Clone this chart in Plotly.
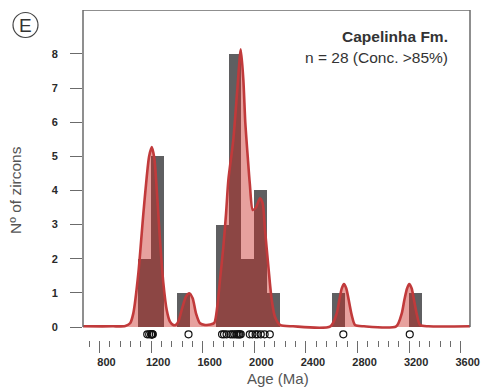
import plotly.graph_objects as go

# ---- data ----
grain_ages = [1170, 1185, 1200, 1203, 1206, 1209, 1213,
              1490,
              1750, 1765, 1785, 1815, 1830, 1845, 1860, 1870, 1880, 1887, 1895,
              1965, 1985, 2010, 2025, 2050, 2080, 2120,
              2690, 3205]

curve_age = [672, 900, 1000, 1037, 1062, 1101, 1140, 1166, 1184, 1205, 1225, 1244, 1269, 1295,
             1321, 1346, 1372, 1390, 1411, 1437, 1470, 1496, 1522, 1548, 1579, 1618, 1660,
             1690, 1713, 1734, 1760, 1781, 1799, 1837, 1868, 1895, 1915, 1930, 1949, 1965,
             1988, 2012, 2044, 2065, 2083, 2109, 2135, 2160, 2199, 2300, 2590, 2639, 2659,
             2678, 2695, 2713, 2732, 2755, 2781, 2850, 3100, 3143, 3163, 3184, 3201, 3220,
             3238, 3261, 3285, 3350, 3672]
curve_val = [0.02, 0.02, 0.03, 0.11, 0.40, 1.57, 3.33, 4.40, 4.99, 5.27, 4.94, 4.01, 2.55, 1.28,
             0.50, 0.16, 0.06, 0.06, 0.16, 0.50, 0.89, 0.99, 0.84, 0.40, 0.11, 0.06, 0.07,
             0.12, 0.60, 1.38, 2.35, 3.33, 4.31, 5.48, 6.95, 8.14, 7.24, 6.00, 4.99, 4.20,
             3.43, 3.50, 3.77, 3.62, 2.84, 1.77, 0.79, 0.30, 0.06, 0.02, 0.02, 0.40, 0.79,
             1.13, 1.26, 1.13, 0.79, 0.35, 0.06, 0.02, 0.02, 0.40, 0.79, 1.13, 1.26, 1.13,
             0.79, 0.35, 0.06, 0.02, 0.02]

x_ticks = [800, 1200, 1600, 2000, 2400, 2800, 3200, 3600]
y_ticks = [0, 1, 2, 3, 4, 5, 6, 7, 8]

# ---- layout geometry ----
W, H = 482, 388
L, R, T, B = 83, 12, 10, 48
PW, PH = W - L - R, H - T - B
XR = [672, 3672]
YR = [-0.381, 9.289]


def px(xp):
    return (xp - L) / PW


def py(yp):
    return (H - B - yp) / PH


FONT = "Liberation Sans, Arial, sans-serif"
GRAY = "#6b6b6b"

fig = go.Figure()
fig.add_trace(go.Histogram(
    x=grain_ages, xbins=dict(start=0, end=4000, size=100),
    marker=dict(color="#5f5f61", line=dict(width=0)), hoverinfo="skip"))
fig.add_trace(go.Scatter(
    x=curve_age, y=curve_val, mode="lines",
    line=dict(color="#c13a3b", width=2.6, shape="spline", smoothing=0.7),
    fill="tozeroy", fillcolor="rgba(200,38,30,0.43)"))
fig.add_trace(go.Scatter(
    x=grain_ages, y=[-0.215] * len(grain_ages), mode="markers",
    marker=dict(symbol="circle-open", size=7, color="#111111", line=dict(width=1.2)),
    cliponaxis=False))

fig.update_layout(
    width=W, height=H, margin=dict(l=L, r=R, t=T, b=B, autoexpand=False),
    paper_bgcolor="white", plot_bgcolor="white", showlegend=False, bargap=0,
    font=dict(family=FONT, color="#333333"),
    xaxis=dict(range=XR, tickmode="array", tickvals=x_ticks, ticktext=[str(v) for v in x_ticks],
               ticks="outside", ticklen=12, tickwidth=1.4, tickcolor=GRAY,
               ticklabelshift=7,
               tickfont=dict(size=11, family=FONT, color="#2a2a2a", weight="bold"),
               minor=dict(tickmode="linear", tick0=0, dtick=80, ticks="outside", ticklen=6,
                          tickwidth=1.2, tickcolor=GRAY, showgrid=False),
               showline=False, showgrid=False, zeroline=False, fixedrange=True),
    yaxis=dict(range=YR, tickmode="array", tickvals=y_ticks, ticks="outside", ticklen=12,
               tickwidth=1.4, tickcolor=GRAY, ticklabelstandoff=10,
               tickfont=dict(size=11, family=FONT, color="#2a2a2a", weight="bold"),
               showline=False, showgrid=False, zeroline=False, fixedrange=True),
)

# frame (top, left, right), stopping at zero
fig.add_shape(type="path", xref="paper", yref="y",
              path=f"M 0 0 L 0 {YR[1]} L 1 {YR[1]} L 1 0",
              line=dict(color=GRAY, width=1.5), layer="above")

# circled E
fig.add_shape(type="circle", xref="paper", yref="paper",
              x0=px(13), x1=px(38), y0=py(37.5), y1=py(12.5),
              line=dict(color="#444444", width=1.2))
fig.add_annotation(x=px(25.5), y=py(25.5), xref="paper", yref="paper", text="E",
                   showarrow=False, font=dict(size=19, color="#333333", family=FONT),
                   xanchor="center", yanchor="middle")

fig.add_annotation(x=px(450), y=py(37), xref="paper", yref="paper", text="<b>Capelinha Fm.</b>",
                   showarrow=False, xanchor="right", yanchor="middle",
                   font=dict(size=15.5, color="#333333", family=FONT))
fig.add_annotation(x=px(450), y=py(57), xref="paper", yref="paper", text="n = 28 (Conc. >85%)",
                   showarrow=False, xanchor="right", yanchor="middle",
                   font=dict(size=15.5, color="#333333", family=FONT))
fig.add_annotation(x=px(278), y=py(378), xref="paper", yref="paper", text="Age (Ma)",
                   showarrow=False, xanchor="center", yanchor="middle",
                   font=dict(size=15, color="#555555", family=FONT))
fig.add_annotation(x=px(15), y=py(190), xref="paper", yref="paper", text="Nº of zircons",
                   showarrow=False, xanchor="center", yanchor="middle", textangle=-90,
                   font=dict(size=15.5, color="#555555", family=FONT))

fig.write_html("out.html")
